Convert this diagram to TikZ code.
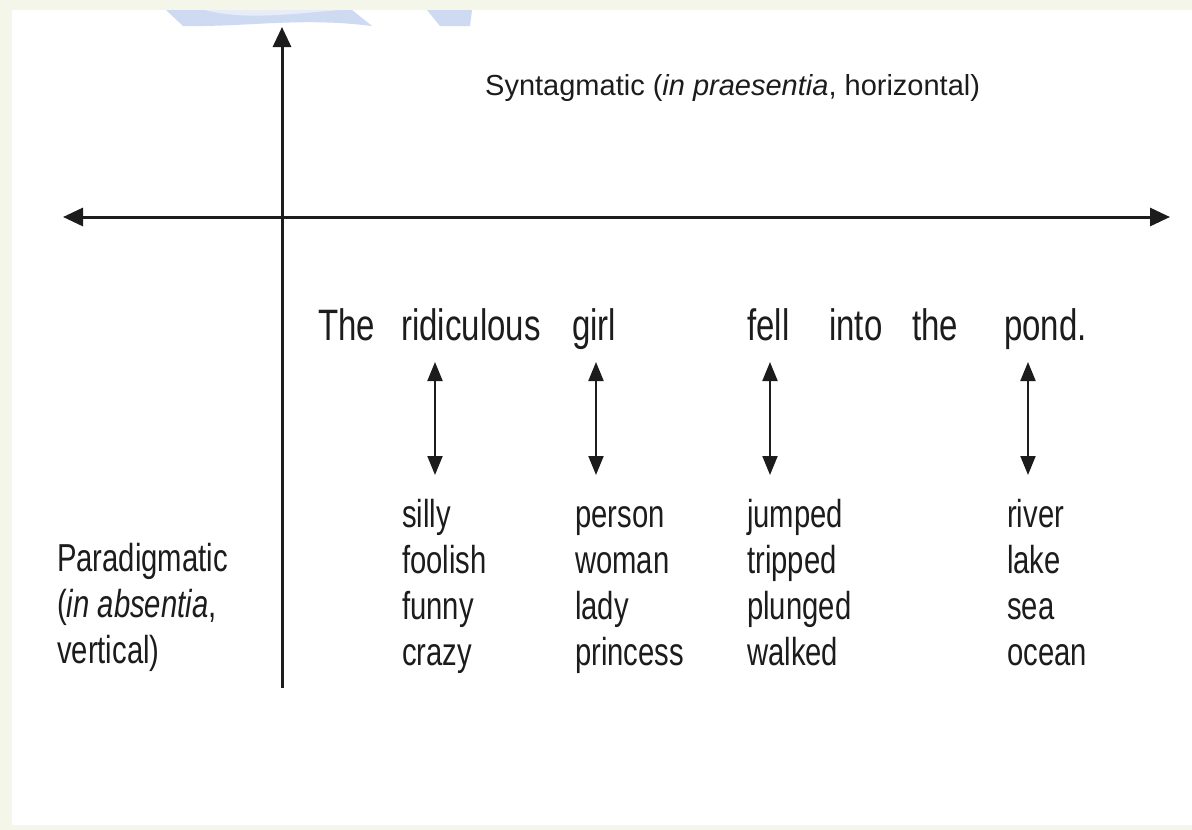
\documentclass[tikz,border=0pt]{standalone}
\usepackage{fontspec}
\setmainfont{Liberation Sans}
\newfontfamily\narrowfont{Liberation Sans}[FakeStretch=0.75]
\usetikzlibrary{arrows.meta}
\definecolor{bggreen}{HTML}{F3F6E8}
\definecolor{blueA}{HTML}{CDDAF1}
\definecolor{blueB}{HTML}{E6EDF8}
\definecolor{ink}{HTML}{1C1C1C}
\tikzset{
  axis/.style={draw=ink, line width=3pt, -{Triangle[length=20pt,width=18pt]}},
  axisboth/.style={draw=ink, line width=3pt, {Triangle[length=20pt,width=18pt]}-{Triangle[length=20pt,width=18pt]}},
  para/.style={draw=ink, line width=2pt, {Triangle[length=19pt,width=15pt]}-{Triangle[length=19pt,width=15pt]}},
  title/.style={anchor=base west, inner sep=0pt, text=ink, font=\fontsize{29}{34}\selectfont},
  word/.style={anchor=base west, inner sep=0pt, text=ink, font=\narrowfont\fontsize{44}{50}\selectfont},
  alt/.style={anchor=base west, inner sep=0pt, text=ink, align=left, font=\narrowfont\fontsize{39}{45.7}\selectfont},
}
\begin{document}
\begin{tikzpicture}[x=1pt,y=-1pt]
\useasboundingbox (0,0) rectangle (1192,830);
\fill[bggreen] (0,0) rectangle (1192,830);
\fill[white] (12,10) rectangle (1192,825);
% faint blue shapes at the top
\fill[blueA] (166,10) -- (183,26) .. controls (250,27) and (300,17) .. (372,26) -- (352,10) -- cycle;
\fill[blueB] (205,10) .. controls (245,21) and (300,13) .. (340,10) -- cycle;
\fill[blueA] (427,10) -- (440,26) -- (470,26) -- (472,10) -- cycle;
% axes
\coordinate (vb) at (282,688);
\coordinate (vt) at (282,27);
\coordinate (hl) at (63,217);
\coordinate (hr) at (1170,217);
\draw[axis] (vb) -- (vt);
\draw[axisboth] (hl) -- (hr);
% title
\node[title] (syn) at (485,95) {Syntagmatic (\textit{in praesentia}, horizontal)};
% sentence
\node[word] (w1) at (318,340) {The};
\node[word] (w2) at (401,340) {ridiculous};
\node[word] (w3) at (572,340) {girl};
\node[word] (w4) at (747,340) {fell};
\node[word] (w5) at (829,340) {into};
\node[word] (w6) at (912,340) {the};
\node[word] (w7) at (1004,340) {pond.};
% alternatives (base = baseline of last line)
\node[alt] (a2) at (402,665) {silly\\foolish\\funny\\crazy};
\node[alt] (a3) at (575,665) {person\\woman\\lady\\princess};
\node[alt] (a4) at (747,665) {jumped\\tripped\\plunged\\walked};
\node[alt] (a7) at (1007,665) {river\\lake\\sea\\ocean};
\node[alt] (par) at (57,663) {Paradigmatic\\(\textit{in absentia},\\vertical)};
% paradigmatic arrows
\coordinate (p2t) at (435,362); \coordinate (p2b) at (435,475);
\coordinate (p3t) at (596,362); \coordinate (p3b) at (596,475);
\coordinate (p4t) at (770,362); \coordinate (p4b) at (770,475);
\coordinate (p7t) at (1028,362); \coordinate (p7b) at (1028,475);
\draw[para] (p2t) -- (p2b);
\draw[para] (p3t) -- (p3b);
\draw[para] (p4t) -- (p4b);
\draw[para] (p7t) -- (p7b);
\end{tikzpicture}
\end{document}
